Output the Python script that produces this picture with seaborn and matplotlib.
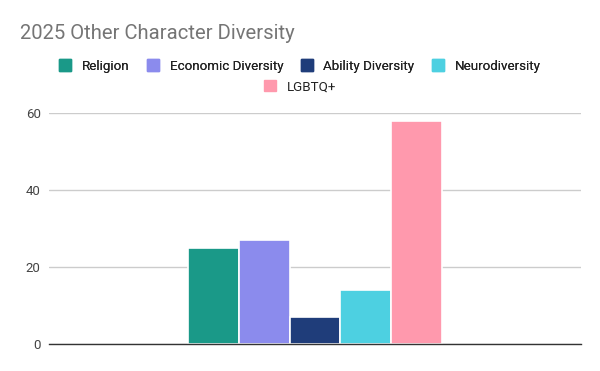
import matplotlib
matplotlib.use("Agg")
import matplotlib.pyplot as plt
import matplotlib.patches as mpatches
import seaborn as sns
import pandas as pd

categories = ["Religion", "Economic Diversity", "Ability Diversity", "Neurodiversity", "LGBTQ+"]
values = [25, 27, 7, 14, 58]
colors = ["#1a9988", "#8b8bed", "#1f3d7a", "#4dd0e1", "#ff99ad"]

df = pd.DataFrame({"group": [""] * len(categories), "category": categories, "value": values})

sns.set_theme(style="white")
plt.rcParams["font.family"] = ["Roboto", "DejaVu Sans"]

fig = plt.figure(figsize=(6, 3.71), dpi=100)
ax = fig.add_axes([0.0817, 0.0728, 0.8866, 0.6226])

sns.barplot(data=df, x="group", y="value", hue="category", hue_order=categories,
            palette=colors, width=0.476, ax=ax, legend=False,
            edgecolor="white", linewidth=1.2, saturation=1)

ax.set_xlim(-0.5, 0.5)
ax.set_ylim(0, 60)
ax.set_yticks([0, 20, 40, 60])
ax.yaxis.grid(True, color="#cccccc", linewidth=1)
ax.set_axisbelow(True)
ax.set_xlabel("")
ax.set_ylabel("")
ax.set_xticks([])
for s in ["top", "right", "left"]:
    ax.spines[s].set_visible(False)
ax.spines["bottom"].set_color("#333333")
ax.spines["bottom"].set_linewidth(1)
ax.tick_params(axis="y", length=0, labelsize=9.5, labelcolor="#444444", pad=6)

fig.text(0.033, 0.91, "2025 Other Character Diversity", fontsize=14.6, color="#757575",
         ha="left", va="center")

handles = [mpatches.Patch(color=c, label=l) for c, l in zip(colors, categories)]
legend_kw = dict(frameon=False, fontsize=9.6, handlelength=0.9, handleheight=0.9,
                 handletextpad=0.8, labelcolor="#222222")
leg1 = fig.legend(handles=handles[:4], loc="center", bbox_to_anchor=(0.5, 0.822), ncol=4,
                  columnspacing=1.3, **legend_kw)
fig.add_artist(leg1)
fig.legend(handles=handles[4:], loc="center", bbox_to_anchor=(0.5, 0.766), ncol=1,
           **legend_kw)

fig.savefig("out.png", dpi=100)
